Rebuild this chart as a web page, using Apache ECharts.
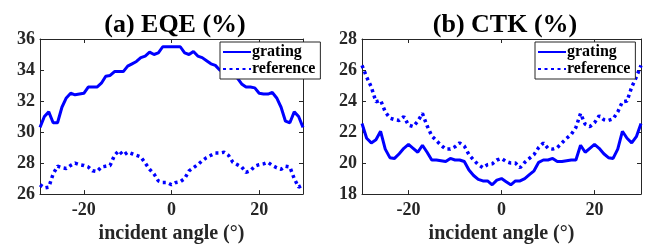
<!DOCTYPE html>
<html>
<head>
<meta charset="utf-8">
<script src="https://cdn.jsdelivr.net/npm/echarts@6/dist/echarts.min.js"></script>
<style>
  html, body { margin: 0; padding: 0; background: #fff; }
  #chart { width: 649px; height: 249px; }
</style>
</head>
<body>
<div id="chart"></div>
<script>
// incident angle, -30 .. 30 deg in 1 deg steps
const angles = [];
for (let a = -30; a <= 30; a++) angles.push(a);

const xTicks = [-20, 0, 20];

// (a) EQE (%)
const eqeGrating = [
  30.3, 31.0, 31.3, 30.6, 30.6, 31.6, 32.2, 32.5, 32.4, 32.45,
  32.5, 32.9, 32.9, 32.9, 33.15, 33.6, 33.65, 33.9, 33.9, 33.9,
  34.25, 34.4, 34.55, 34.8, 34.9, 35.15, 35.0, 35.1, 35.5, 35.5,
  35.5,
  35.5, 35.5, 35.1, 35.0, 35.2, 34.9, 34.8, 34.6, 34.4, 34.3,
  34.0, 33.9, 33.9, 33.7, 33.5, 33.1, 32.9, 32.9, 32.85, 32.5,
  32.45, 32.45, 32.55, 32.2, 31.6, 30.7, 30.6, 31.3, 31.0, 30.3
];
const eqeReference = [
  26.6, 26.4, 26.45, 27.3, 27.8, 27.7, 27.65, 27.85, 28.0, 27.9,
  27.85, 27.75, 27.5, 27.45, 27.75, 27.8, 27.85, 28.5, 28.8, 28.5,
  28.7, 28.6, 28.5, 28.4, 28.0, 27.6, 27.3, 26.85, 26.75, 26.75,
  26.6,
  26.75, 26.8, 27.0, 27.5, 27.7, 27.9, 28.15, 28.35, 28.5, 28.65,
  28.65, 28.7, 28.5, 28.05, 27.9, 27.75, 27.4, 27.5, 27.8, 27.9,
  27.95, 28.05, 27.85, 27.7, 27.6, 27.8, 27.75, 27.0, 26.45, 26.6
];

// (b) CTK (%)
const ctkGrating = [
  22.55, 21.6, 21.3, 21.5, 22.05, 20.9, 20.35, 20.3, 20.6, 20.95,
  21.2, 20.95, 20.7, 21.15, 20.7, 20.2, 20.2, 20.15, 20.1, 20.3,
  20.2, 20.2, 20.1, 19.55, 19.2, 18.95, 18.85, 18.85, 18.6, 18.9,
  19.0,
  18.8, 18.6, 18.85, 18.85, 19.0, 19.25, 19.5, 20.05, 20.2, 20.2,
  20.3, 20.1, 20.1, 20.15, 20.2, 20.2, 21.15, 20.7, 20.95, 21.2,
  20.95, 20.6, 20.35, 20.3, 20.9, 22.05, 21.6, 21.3, 21.7, 22.55
];
const ctkReference = [
  26.3, 25.55, 24.9, 23.95, 24.05, 23.3, 22.9, 22.8, 22.75, 23.0,
  22.45, 22.35, 22.7, 23.2, 22.4, 21.75, 21.45, 21.15, 20.9, 20.9,
  21.05, 21.3, 21.1, 20.55, 20.2, 19.9, 19.7, 19.9, 19.95, 20.2,
  20.3,
  20.1, 20.0, 20.0, 19.7, 20.05, 20.3, 20.55, 21.0, 21.3, 20.95,
  20.9, 21.0, 21.3, 21.6, 21.85, 22.3, 23.2, 22.5, 22.35, 22.6,
  23.05, 22.8, 22.75, 22.85, 23.3, 23.95, 24.0, 24.9, 25.55, 26.3
];

const font = "'Liberation Serif', 'Times New Roman', serif";
const ink = '#262626';
const blue = '#0000ff';

const chart = echarts.init(document.getElementById('chart'));

const pair = (xs, ys) => xs.map((x, i) => [x, ys[i]]);

function xAxes(gridIndex) {
  const base = {
    type: 'value', gridIndex, min: -30, max: 30,
    splitLine: { show: false },
    axisLine: { onZero: false, lineStyle: { color: ink, width: 1 } },
    axisTick: { inside: true, length: 4, customValues: xTicks, lineStyle: { color: ink } },
  };
  return [
    Object.assign({}, base, {
      position: 'bottom',
      axisLabel: { customValues: xTicks, color: ink, fontFamily: font, fontWeight: 'bold', fontSize: 18, margin: 7 },
      name: 'incident angle (°)',
      nameLocation: 'middle',
      nameGap: 29,
      nameTextStyle: { color: ink, fontFamily: font, fontWeight: 'bold', fontSize: 20 },
    }),
    Object.assign({}, base, { position: 'top', axisLabel: { show: false } }),
  ];
}

function yAxes(gridIndex, min, max) {
  const base = {
    type: 'value', gridIndex, min, max, interval: 2,
    splitLine: { show: false },
    axisLine: { show: true, onZero: false, lineStyle: { color: ink, width: 1 } },
    axisTick: { show: true, inside: true, length: 4, lineStyle: { color: ink } },
  };
  return [
    Object.assign({}, base, {
      position: 'left',
      axisLabel: { color: ink, fontFamily: font, fontWeight: 'bold', fontSize: 18, margin: 5 },
    }),
    Object.assign({}, base, { position: 'right', axisLabel: { show: false } }),
  ];
}

function lines(name, data, xi, yi, dotted) {
  return {
    name, type: 'line', data,
    xAxisIndex: xi, yAxisIndex: yi,
    symbol: 'none',
    smooth: false,
    color: blue,
    lineStyle: dotted
      ? { color: blue, width: 3.5, type: [3, 3.5] }
      : { color: blue, width: 3 },
    z: 3,
  };
}

function legendAt(left) {
  return {
    left, top: 42,
    orient: 'vertical',
    data: ['grating', 'reference'],
    itemWidth: 28,
    itemHeight: 12,
    itemGap: 1,
    padding: [2, 5, 2, 2],
    borderColor: ink,
    borderWidth: 1,
    backgroundColor: '#fff',
    itemStyle: { opacity: 0 },
    textStyle: { color: '#000', fontFamily: font, fontWeight: 'bold', fontSize: 16, lineHeight: 16, padding: [0, 0, 0, -4] },
    selectedMode: false,
  };
}

const option = {
  backgroundColor: '#fff',
  animation: false,
  title: [
    {
      text: '(a) EQE (%)', left: 170, top: 7, textAlign: 'center',
      textStyle: { color: '#000', fontFamily: font, fontWeight: 'bold', fontSize: 26 },
    },
    {
      text: '(b) CTK (%)', left: 500, top: 7, textAlign: 'center',
      textStyle: { color: '#000', fontFamily: font, fontWeight: 'bold', fontSize: 26 },
    },
  ],
  grid: [
    { left: 40, top: 39, width: 263, height: 160 },
    { left: 362, top: 39, width: 279, height: 160 },
  ],
  xAxis: xAxes(0).concat(xAxes(1)),
  yAxis: yAxes(0, 26, 36).concat(yAxes(1, 18, 28)),
  legend: [
    legendAt(220),
    legendAt(535),
  ],
  series: [
    lines('grating', pair(angles, eqeGrating), 0, 0, false),
    lines('reference', pair(angles, eqeReference), 0, 0, true),
    lines('grating', pair(angles, ctkGrating), 2, 2, false),
    lines('reference', pair(angles, ctkReference), 2, 2, true),
  ],
};

chart.setOption(option);
</script>
</body>
</html>
